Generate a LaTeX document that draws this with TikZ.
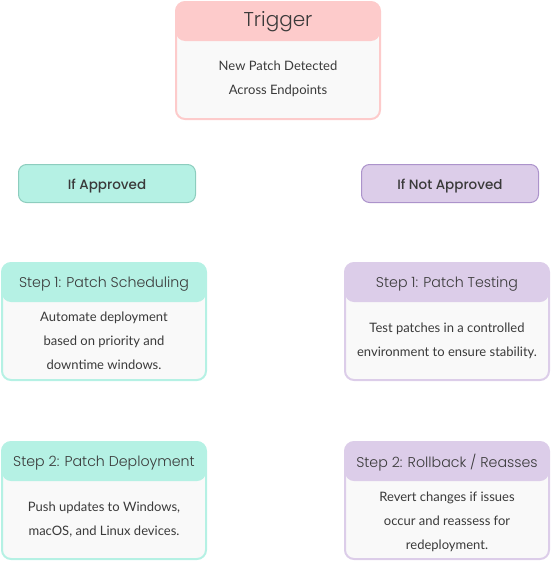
\documentclass[tikz,border=0pt]{standalone}
\usepackage{fontspec}
\usepackage{tikz}
\usetikzlibrary{positioning}
\setmainfont{Lato}
\newfontfamily\headfont{Poppins Light}
\newfontfamily\headfontsb{Poppins Medium}
\definecolor{my_pink}{HTML}{FDCBCB}
\definecolor{my_teal}{HTML}{B5F1E4}
\definecolor{my_purple}{HTML}{DCCDE9}
\definecolor{my_bodygray}{HTML}{F9F9F9}
\definecolor{my_tealedge}{HTML}{8DCDBE}
\definecolor{my_purpleedge}{HTML}{AC93CB}
\definecolor{my_text}{HTML}{3A3A3A}

\begin{document}
\begin{tikzpicture}[
    x=1pt, y=1pt,
    card/.style={draw=#1, line width=2pt, fill=my_bodygray,
        rounded corners=9pt, minimum width=204pt, minimum height=117pt,
        inner sep=0pt,
        path picture={\fill[#1] (path picture bounding box.north west)
            rectangle ([yshift=-39pt]path picture bounding box.north east);}},
    cardtitle/.style={text=my_text, font=\headfont\fontsize{14.2}{18}\selectfont,
        inner sep=0pt, anchor=center},
    cardbody/.style={text=my_text, font=\fontsize{13}{24}\selectfont,
        align=center, inner sep=0pt},
    branch/.style 2 args={draw=#2, line width=1pt, fill=#1, rounded corners=8pt,
        minimum width=177pt, minimum height=38pt, inner sep=0pt,
        text height=12pt, text depth=0pt,
        text=my_text, font=\headfontsb\fontsize{13.5}{16}\selectfont}
]

% Frame of the whole picture
\useasboundingbox (0,0) rectangle (551,-562);

% Trigger card at the top
\node[card=my_pink] (trigger) at (278,-60.5) {};
\node[cardtitle, font=\headfont\fontsize{20}{22}\selectfont]
    (trigger-title) at ([yshift=-21pt]trigger.north) {Trigger};
\node[cardbody] (trigger-body) at ([yshift=-18.5pt]trigger.center)
    {New Patch Detected\\Across Endpoints};

% The two branches
\node[branch={my_teal}{my_tealedge}] (approved) at (107,-183.5) {If Approved};
\node[branch={my_purple}{my_purpleedge}] (notapproved) at (450,-183.5) {If Not Approved};

% Left column: approved path
\node[card=my_teal] (sched) at (104,-321.5) {};
\node[cardtitle] (sched-title) at ([yshift=-22pt]sched.north)
    {Step 1: Patch Scheduling};
\node[cardbody] (sched-body) at ([yshift=-19.5pt]sched.center)
    {Automate deployment\\based on priority and\\downtime windows.};

\node[card=my_teal] (deploy) at (104,-500.5) {};
\node[cardtitle] (deploy-title) at ([yshift=-22pt]deploy.north)
    {Step 2: Patch Deployment};
\node[cardbody] (deploy-body) at ([yshift=-19pt]deploy.center)
    {Push updates to Windows,\\macOS, and Linux devices.};

% Right column: not approved path
\node[card=my_purple] (testing) at (447,-321.5) {};
\node[cardtitle] (testing-title) at ([yshift=-22pt]testing.north)
    {Step 1: Patch Testing};
\node[cardbody] (testing-body) at ([yshift=-19.5pt]testing.center)
    {Test patches in a controlled\\environment to ensure stability.};

\node[card=my_purple] (rollback) at (447,-500.5) {};
\node[cardtitle] (rollback-title) at ([yshift=-22pt]rollback.north)
    {Step 2: Rollback / Reasses};
\node[cardbody] (rollback-body) at ([yshift=-21.5pt]rollback.center)
    {Revert changes if issues\\occur and reassess for\\redeployment.};

\end{tikzpicture}
\end{document}
